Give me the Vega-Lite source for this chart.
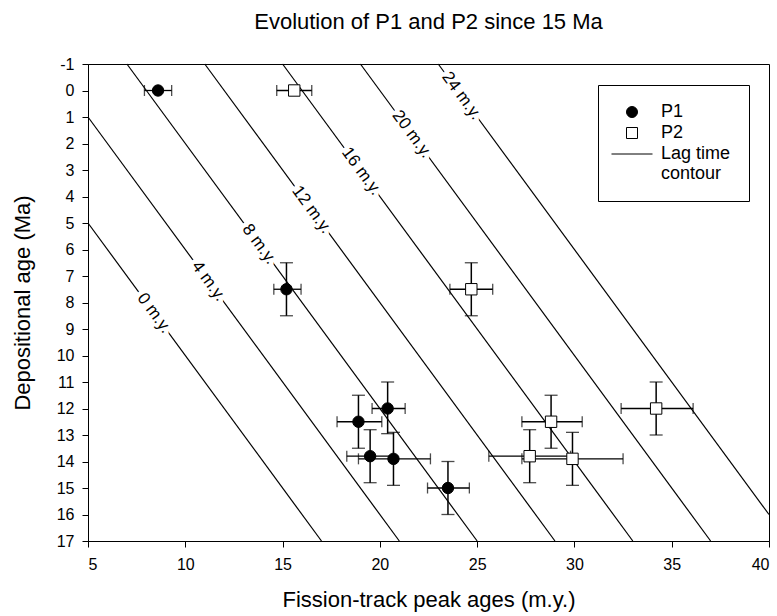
{
  "$schema": "https://vega.github.io/schema/vega-lite/v6.json",
  "autosize": {"type": "none"},
  "padding": {"left": 88, "top": 64, "right": 8, "bottom": 75},
  "width": 681,
  "height": 477,
  "background": "white",
  "config": {
    "font": "Liberation Sans",
    "view": {"stroke": "black", "strokeWidth": 1},
    "axis": {
      "grid": false,
      "domainColor": "black",
      "tickColor": "black",
      "labelColor": "black",
      "titleColor": "black",
      "labelFont": "Liberation Sans",
      "titleFont": "Liberation Sans",
      "labelFontSize": 16,
      "titleFontSize": 22,
      "titleFontWeight": "normal",
      "tickSize": 6,
      "labelOverlap": false
    },
    "axisY": {"labelOverlap": false, "labelBound": false}
  },
  "title": {
    "text": "Evolution of P1 and P2 since 15 Ma",
    "fontSize": 22,
    "fontWeight": "normal",
    "font": "Liberation Sans",
    "color": "black",
    "anchor": "middle",
    "frame": "group",
    "baseline": "alphabetic",
    "offset": 5
  },
  "datasets": {
    "points": [
      {"series": "P1", "x": 8.6, "y": 0, "xlo": 7.9, "xhi": 9.3, "ylo": null, "yhi": null},
      {"series": "P1", "x": 15.2, "y": 7.5, "xlo": 14.55, "xhi": 15.95, "ylo": 6.5, "yhi": 8.5},
      {"series": "P1", "x": 20.4, "y": 12.0, "xlo": 19.6, "xhi": 21.3, "ylo": 11.0, "yhi": 12.95},
      {"series": "P1", "x": 18.9, "y": 12.5, "xlo": 17.8, "xhi": 20.1, "ylo": 11.5, "yhi": 13.5},
      {"series": "P1", "x": 19.5, "y": 13.8, "xlo": 18.3, "xhi": 20.7, "ylo": 12.8, "yhi": 14.8},
      {"series": "P1", "x": 20.7, "y": 13.9, "xlo": 18.9, "xhi": 22.6, "ylo": 12.9, "yhi": 14.9},
      {"series": "P1", "x": 23.5, "y": 15.0, "xlo": 22.45, "xhi": 24.6, "ylo": 14.0, "yhi": 16.0},
      {"series": "P2", "x": 15.6, "y": 0, "xlo": 14.7, "xhi": 16.5, "ylo": null, "yhi": null},
      {"series": "P2", "x": 24.7, "y": 7.5, "xlo": 23.6, "xhi": 25.8, "ylo": 6.5, "yhi": 8.5},
      {"series": "P2", "x": 34.2, "y": 12.0, "xlo": 32.4, "xhi": 36.1, "ylo": 11.0, "yhi": 13.0},
      {"series": "P2", "x": 28.8, "y": 12.5, "xlo": 27.3, "xhi": 30.4, "ylo": 11.5, "yhi": 13.5},
      {"series": "P2", "x": 27.7, "y": 13.8, "xlo": 25.6, "xhi": 29.8, "ylo": 12.8, "yhi": 14.8},
      {"series": "P2", "x": 29.9, "y": 13.9, "xlo": 27.3, "xhi": 32.5, "ylo": 12.9, "yhi": 14.9}
    ],
    "contours": [
      {"lag": 0, "x": 5, "y": 5}, {"lag": 0, "x": 17, "y": 17},
      {"lag": 4, "x": 5, "y": 1}, {"lag": 4, "x": 21, "y": 17},
      {"lag": 8, "x": 7, "y": -1}, {"lag": 8, "x": 25, "y": 17},
      {"lag": 12, "x": 11, "y": -1}, {"lag": 12, "x": 29, "y": 17},
      {"lag": 16, "x": 15, "y": -1}, {"lag": 16, "x": 33, "y": 17},
      {"lag": 20, "x": 19, "y": -1}, {"lag": 20, "x": 37, "y": 17},
      {"lag": 24, "x": 23, "y": -1}, {"lag": 24, "x": 40, "y": 16}
    ],
    "labels": [
      {"label": "0 m.y.", "x": 8.4, "y": 8.4},
      {"label": "4 m.y.", "x": 11.2, "y": 7.2},
      {"label": "8 m.y.", "x": 13.8, "y": 5.8},
      {"label": "12 m.y.", "x": 16.5, "y": 4.5},
      {"label": "16 m.y.", "x": 19.05, "y": 3.05},
      {"label": "20 m.y.", "x": 21.65, "y": 1.65},
      {"label": "24 m.y.", "x": 24.2, "y": 0.2}
    ]
  },
  "layer": [
    {
      "data": {"name": "contours"},
      "mark": {"type": "line", "color": "black", "strokeWidth": 1.2},
      "encoding": {
        "x": {"field": "x", "type": "quantitative", "title": "Fission-track peak ages (m.y.)",
              "scale": {"domain": [5, 40], "nice": false, "zero": false},
              "axis": {"values": [5, 10, 15, 20, 25, 30, 35, 40], "labelPadding": 9, "titlePadding": 17, "labelOverlap": false}},
        "y": {"field": "y", "type": "quantitative", "title": "Depositional age (Ma)",
              "scale": {"domain": [-1, 17], "nice": false, "zero": false, "reverse": true},
              "axis": {"values": [-1, 0, 1, 2, 3, 4, 5, 6, 7, 8, 9, 10, 11, 12, 13, 14, 15, 16, 17], "tickCount": 19, "labelExpr": "'' + datum.value", "labelPadding": 8, "titlePadding": 22, "labelOverlap": false, "labelBound": false}},
        "detail": {"field": "lag", "type": "nominal"},
        "order": {"field": "y", "type": "quantitative"}
      }
    },
    {
      "data": {"name": "labels"},
      "mark": {"type": "text", "angle": 53.7, "fontSize": 17, "align": "center", "baseline": "middle", "stroke": "white", "strokeWidth": 9, "strokeJoin": "round", "fill": "white"},
      "encoding": {
        "x": {"field": "x", "type": "quantitative", "title": "Fission-track peak ages (m.y.)"},
        "y": {"field": "y", "type": "quantitative", "title": "Depositional age (Ma)"},
        "text": {"field": "label"}
      }
    },
    {
      "data": {"name": "labels"},
      "mark": {"type": "text", "angle": 53.7, "fontSize": 17, "align": "center", "baseline": "middle", "color": "black"},
      "encoding": {
        "x": {"field": "x", "type": "quantitative", "title": "Fission-track peak ages (m.y.)"},
        "y": {"field": "y", "type": "quantitative", "title": "Depositional age (Ma)"},
        "text": {"field": "label"}
      }
    },
    {
      "data": {"name": "points"},
      "mark": {"type": "errorbar", "color": "black", "ticks": {"size": 11, "thickness": 1.3, "color": "black"}, "rule": {"strokeWidth": 1.3, "color": "black"}},
      "encoding": {
        "x": {"field": "xlo", "type": "quantitative", "title": "Fission-track peak ages (m.y.)"},
        "x2": {"field": "xhi"},
        "y": {"field": "y", "type": "quantitative", "title": "Depositional age (Ma)"}
      }
    },
    {
      "data": {"name": "points"},
      "transform": [{"filter": "datum.ylo != null"}],
      "mark": {"type": "errorbar", "color": "black", "ticks": {"size": 13, "thickness": 1.3, "color": "black"}, "rule": {"strokeWidth": 1.5, "color": "black"}},
      "encoding": {
        "x": {"field": "x", "type": "quantitative", "title": "Fission-track peak ages (m.y.)"},
        "y": {"field": "ylo", "type": "quantitative", "title": "Depositional age (Ma)"},
        "y2": {"field": "yhi"}
      }
    },
    {
      "data": {"name": "points"},
      "mark": {"type": "point", "filled": true, "strokeWidth": 1, "opacity": 1, "size": 130},
      "encoding": {
        "x": {"field": "x", "type": "quantitative", "title": "Fission-track peak ages (m.y.)"},
        "y": {"field": "y", "type": "quantitative", "title": "Depositional age (Ma)"},
        "shape": {"field": "series", "type": "nominal",
                  "scale": {"domain": ["P1", "P2", "Lag time contour"], "range": ["circle", "square", "M-3.73,0L3.73,0"]},
                  "legend": {
                    "title": null, "orient": "none", "legendX": 510, "legendY": 21,
                    "padding": 18, "strokeColor": "black", "fillColor": "white",
                    "labelFontSize": 18, "labelFont": "Liberation Sans", "labelColor": "black",
                    "labelOffset": 20, "symbolOffset": 7, "rowPadding": 3,
                    "symbolSize": 121,
                    "symbolStrokeWidth": 1,
                    "labelExpr": "datum.label == 'Lag time contour' ? ['Lag time', 'contour'] : datum.label"
                  }},
        "fill": {"field": "series", "type": "nominal",
                 "scale": {"domain": ["P1", "P2", "Lag time contour"], "range": ["black", "white", "black"]}},
        "stroke": {"field": "series", "type": "nominal",
                   "scale": {"domain": ["P1", "P2", "Lag time contour"], "range": ["black", "black", "black"]}}
      }
    }
  ]
}
